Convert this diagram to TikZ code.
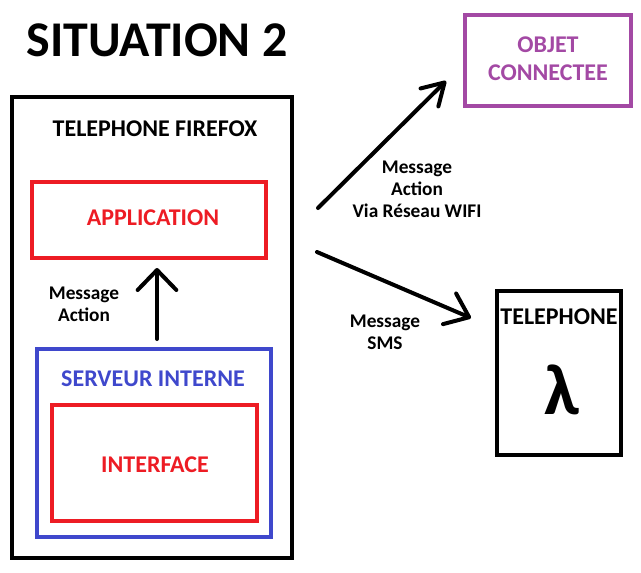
\documentclass[tikz,border=0pt]{standalone}
\usepackage{fontspec}
\setmainfont{Carlito}
\usepackage{xcolor}
\usepackage{tikz}
\usetikzlibrary{arrows.meta}
\definecolor{rougeapp}{HTML}{ED1C24}
\definecolor{bleuserv}{HTML}{3F48CC}
\definecolor{violetobj}{HTML}{A349A4}

\begin{document}
\begin{tikzpicture}[x=0.75pt,y=-0.75pt,
    boite/.style={draw,rectangle,line width=3pt,inner sep=0pt},
    titre/.style={font=\bfseries\fontsize{18}{21}\selectfont,align=center,inner sep=0pt},
    msg/.style={font=\bfseries\fontsize{14.5}{16.5}\selectfont,align=center,inner sep=0pt},
    fleche/.style 2 args={line width=3pt,line cap=round,-{Straight Barb[length=#1,width=#2,round]}}]
    \useasboundingbox (0,0) rectangle (641,572);
    \node[font=\bfseries\fontsize{37.5}{40}\selectfont,inner sep=0pt] (situation) at (157,40) {SITUATION 2};
    \node[boite,minimum width=210pt,minimum height=345.75pt] (firefox) at (152,327.5) {};
    \node[titre] (firefoxlbl) at (155,129) {TELEPHONE FIREFOX};
    \node[boite,draw=rougeapp,minimum width=175.5pt,minimum height=57pt] (application) at (149,220) {};
    \node[titre,text=rougeapp] (applicationlbl) at (153,218) {APPLICATION};
    \node[boite,draw=bleuserv,minimum width=175.5pt,minimum height=141pt] (serveur) at (154,443) {};
    \node[titre,text=bleuserv] (serveurlbl) at (153,379) {SERVEUR INTERNE};
    \node[boite,draw=rougeapp,minimum width=153.75pt,minimum height=87pt] (interface) at (154.5,463) {};
    \node[titre,text=rougeapp] (interfacelbl) at (155,465) {INTERFACE};
    \node[boite,draw=violetobj,minimum width=124.5pt,minimum height=68.25pt] (objet) at (548,60.5) {};
    \node[titre,text=violetobj] (objetlbl) at (548,59) {OBJET\\CONNECTEE};
    \node[boite,line width=3.5pt,minimum width=93pt,minimum height=123pt] (telephone) at (559,373) {};
    \node[titre] (telephonelbl) at (559,317) {TELEPHONE};
    \node[font=\bfseries\fontsize{54}{58}\selectfont,inner sep=0pt] (lambda) at (562,390) {λ};
    \node[msg] (msgaction) at (84,304) {Message\\Action};
    \node[msg] (msgwifi) at (417,189) {Message\\Action\\Via Réseau WIFI};
    \node[msg] (msgsms) at (385,332) {Message\\SMS};
    \coordinate (hautA) at (157,339);
    \coordinate (hautB) at (157,268);
    \coordinate (wifiA) at (318,208);
    \coordinate (wifiB) at (446,81);
    \coordinate (smsA) at (317,252);
    \coordinate (smsB) at (471,318);
    \draw[fleche={15pt}{29pt}] (hautA) -- (hautB);
    \draw[fleche={16pt}{19pt}] (wifiA) -- (wifiB);
    \draw[fleche={16pt}{25pt}] (smsA) -- (smsB);
\end{tikzpicture}
\end{document}
